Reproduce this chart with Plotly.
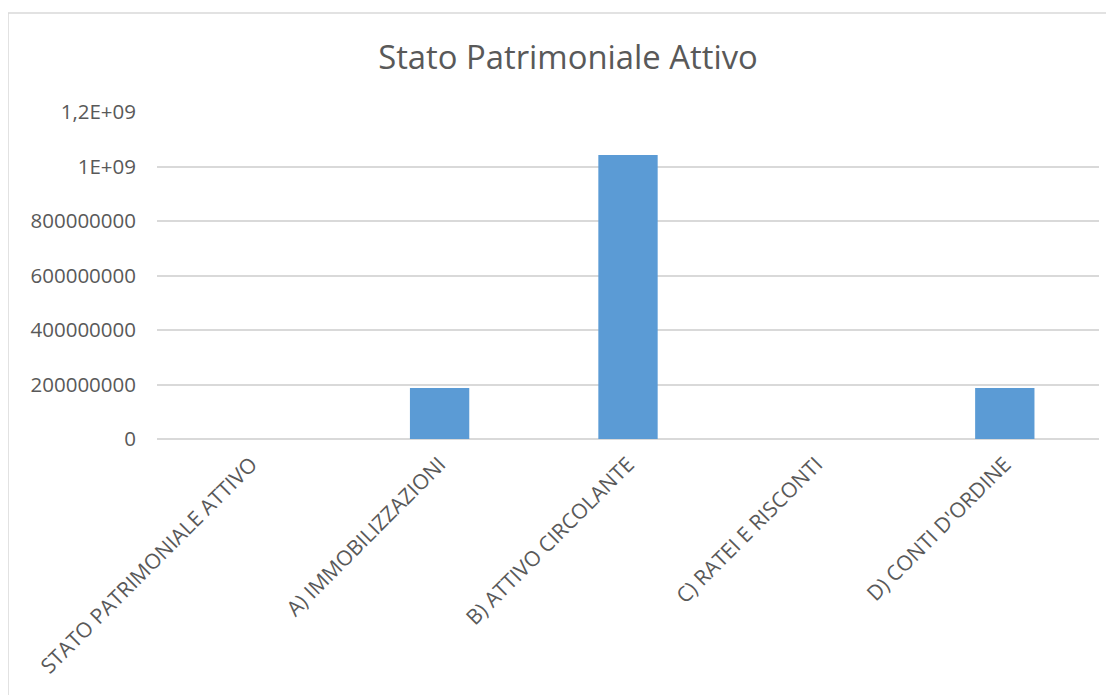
import plotly.graph_objects as go

categories = ["STATO PATRIMONIALE ATTIVO", "A) IMMOBILIZZAZIONI", "B) ATTIVO CIRCOLANTE",
              "C) RATEI E RISCONTI", "D) CONTI D'ORDINE"]
values = [0, 187000000, 1042000000, 0, 187000000]
tick_vals = [0, 200000000, 400000000, 600000000, 800000000, 1000000000, 1200000000]
tick_text = ["0", "200000000", "400000000", "600000000", "800000000", "1E+09", "1,2E+09"]

# page has an 8px body margin; figure coordinates are page coordinates minus 8
OFF = 8
W, H = 1114 - OFF, 695 - OFF
ML, MR, MT, MB = 157 - OFF, 15, 112 - OFF, 256
pw, ph = W - ML - MR, H - MT - MB

def px_x(p):
    return (p - OFF - ML) / pw

def px_y(p):
    return (H - MB - (p - OFF)) / ph

text_col = "#595959"
grid_col = "#d9d9d9"
font_fam = "Open Sans, Liberation Sans, sans-serif"

fig = go.Figure(go.Bar(x=categories, y=values, marker=dict(color="#5b9bd5", line=dict(width=0))))

fig.update_layout(
    width=W, height=H,
    margin=dict(l=ML, r=MR, t=MT, b=MB),
    paper_bgcolor="white", plot_bgcolor="white",
    showlegend=False,
    bargap=0.685,
    font=dict(family=font_fam, color=text_col),
    title=dict(text="Stato Patrimoniale Attivo", x=(568 - OFF) / W, xref="container", xanchor="center",
               y=1 - (58 - OFF) / H, yref="container", yanchor="middle",
               font=dict(size=32.8, color=text_col, family=font_fam)),
    xaxis=dict(tickangle=-45, tickfont=dict(size=21, color=text_col), showgrid=False,
               showline=False, ticks="", zeroline=False, ticklabelstandoff=8),
    yaxis=dict(range=[0, 1200000000], tickvals=tick_vals, ticktext=tick_text,
               tickfont=dict(size=20.5, color=text_col), showgrid=True, gridcolor=grid_col,
               gridwidth=1.5, zeroline=True, zerolinecolor=grid_col, zerolinewidth=1.5,
               showline=False, ticks="", ticklabelstandoff=20),
    shapes=[dict(type="rect", xref="paper", yref="paper",
                 x0=px_x(8), x1=px_x(1125), y0=px_y(705), y1=px_y(13),
                 line=dict(color=grid_col, width=1.5), fillcolor="rgba(0,0,0,0)", layer="below")],
)

fig.write_html("out.html")
